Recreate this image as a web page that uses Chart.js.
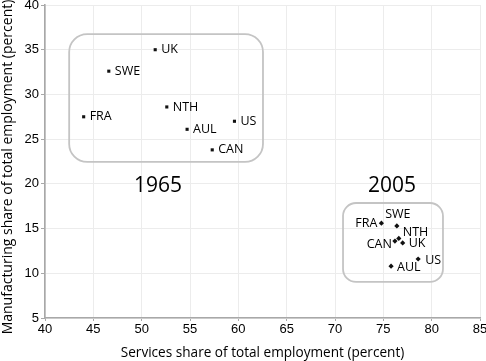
<!DOCTYPE html>
<html><head><meta charset="utf-8">
<script src="https://cdn.jsdelivr.net/npm/chart.js@4.4.0/dist/chart.umd.min.js"></script>
<style>html,body{margin:0;padding:0;background:#fff}#c{display:block}</style>
</head><body>
<canvas id="c" width="486" height="361"></canvas>
<script>
// ---- data ----
const countries1965 = ['UK', 'SWE', 'FRA', 'NTH', 'AUL', 'US', 'CAN'];
const services1965 = [51.4, 46.6, 44.0, 52.6, 54.7, 59.6, 57.3];
const manufacturing1965 = [35.0, 32.6, 27.5, 28.6, 26.1, 27.0, 23.8];

const countries2005 = ['FRA', 'SWE', 'CAN', 'NTH', 'UK', 'AUL', 'US'];
const services2005 = [74.8, 76.4, 76.2, 76.6, 77.0, 75.8, 78.6];
const manufacturing2005 = [15.6, 15.3, 13.6, 13.9, 13.4, 10.8, 11.6];

const xTickValues = [40, 45, 50, 55, 60, 65, 70, 75, 80, 85];
const yTickValues = [5, 10, 15, 20, 25, 30, 35, 40];

const xTitle = 'Services share of total employment (percent)';
const yTitle = 'Manufacturing share of total employment (percent)';

const groupYears = ['1965', '2005'];
// group boxes in data units: [xMin, xMax, yMin, yMax]
const groupBoxes = [[42.5, 62.55, 22.45, 36.75], [70.83, 81.17, 9.03, 17.86]];
const yearLabelPos = [[51.7, 19.75], [75.9, 19.75]];

// ---- label placement (style) ----
const place1965 = {UK:[6,0,'left'], SWE:[6,0,'left'], FRA:[6,0,'left'], NTH:[6,0,'left'], AUL:[6,0,'left'], US:[6,0,'left'], CAN:[6,0,'left']};
const place2005 = {FRA:[-4,0,'right'], SWE:[1,-11,'center'], CAN:[-3,3,'right'], NTH:[4,-6,'left'], UK:[6,1,'left'], AUL:[6,1,'left'], US:[7,1,'left']};

const pts = (xs, ys) => xs.map((x, i) => ({x: x, y: ys[i]}));

const annot = {
  id: 'annot',
  beforeDatasetsDraw(chart) {
    const {ctx, scales: {x, y}} = chart;
    ctx.save();
    ctx.strokeStyle = '#c4c4c4';
    ctx.lineWidth = 1.8;
    groupBoxes.forEach((b, i) => {
      const l = x.getPixelForValue(b[0]), r = x.getPixelForValue(b[1]);
      const t = y.getPixelForValue(b[3]), bt = y.getPixelForValue(b[2]);
      ctx.beginPath();
      ctx.roundRect(l, t, r - l, bt - t, i === 0 ? 18 : 13);
      ctx.stroke();
    });
    ctx.restore();
  },
  afterDatasetsDraw(chart) {
    const {ctx, scales: {x, y}} = chart;
    ctx.save();
    ctx.fillStyle = '#000';
    ctx.textBaseline = 'middle';
    ctx.font = '12.5px "Open Sans"';
    chart.data.datasets.forEach((ds, di) => {
      const names = di === 0 ? countries1965 : countries2005;
      const place = di === 0 ? place1965 : place2005;
      ds.data.forEach((p, i) => {
        const px = x.getPixelForValue(p.x), py = y.getPixelForValue(p.y);
        const pl = place[names[i]];
        ctx.textAlign = pl[2];
        ctx.fillText(names[i], px + pl[0], py + pl[1]);
      });
    });
    ctx.font = '21px "Open Sans"';
    ctx.textAlign = 'center';
    groupYears.forEach((yr, i) => {
      ctx.fillText(yr, x.getPixelForValue(yearLabelPos[i][0]), y.getPixelForValue(yearLabelPos[i][1]));
    });
    // y axis title
    ctx.translate(8, 167);
    ctx.rotate(-Math.PI / 2);
    ctx.font = '14px "Open Sans"';
    ctx.fillText(yTitle, 0, 0);
    ctx.restore();
  }
};

new Chart(document.getElementById('c'), {
  type: 'scatter',
  data: {
    datasets: [
      {label: '1965', data: pts(services1965, manufacturing1965), pointStyle: 'rect', pointRadius: 2.2, pointHoverRadius: 2.2,
       backgroundColor: '#111', borderColor: '#111', borderWidth: 0},
      {label: '2005', data: pts(services2005, manufacturing2005), pointStyle: 'rectRot', pointRadius: 2.6, pointHoverRadius: 2.6,
       backgroundColor: '#111', borderColor: '#111', borderWidth: 0}
    ]
  },
  options: {
    responsive: false,
    animation: false,
    events: [],
    layout: {padding: {top: 5, right: 6, left: 0, bottom: 0}},
    plugins: {legend: {display: false}, tooltip: {enabled: false}},
    scales: {
      x: {
        type: 'linear', min: 40, max: 85,
        afterBuildTicks: s => { s.ticks = xTickValues.map(v => ({value: v})); },
        afterFit: s => { s.height = 43; s.paddingLeft = 0; s.paddingRight = 0; },
        border: {color: '#a8a8a8', width: 1.6},
        grid: {color: '#ececec', lineWidth: 1, tickLength: 3, tickColor: '#a8a8a8'},
        ticks: {color: '#000', font: {family: '"Liberation Sans"', size: 13}, padding: 1, maxRotation: 0},
        title: {display: true, text: xTitle, color: '#000',
                font: {family: '"Open Sans"', size: 13.6}, padding: {top: 2, bottom: 0}}
      },
      y: {
        type: 'linear', min: 5, max: 40,
        afterBuildTicks: s => { s.ticks = yTickValues.map(v => ({value: v})); },
        afterFit: s => { s.width = 45; s.paddingTop = 0; s.paddingBottom = 0; },
        border: {color: '#a8a8a8', width: 1.6},
        grid: {color: '#ececec', lineWidth: 1, tickLength: 4, tickColor: '#a8a8a8'},
        ticks: {color: '#000', font: {family: '"Liberation Sans"', size: 13}, padding: 2},
        title: {display: false}
      }
    }
  },
  plugins: [annot]
});
</script>
</body></html>
